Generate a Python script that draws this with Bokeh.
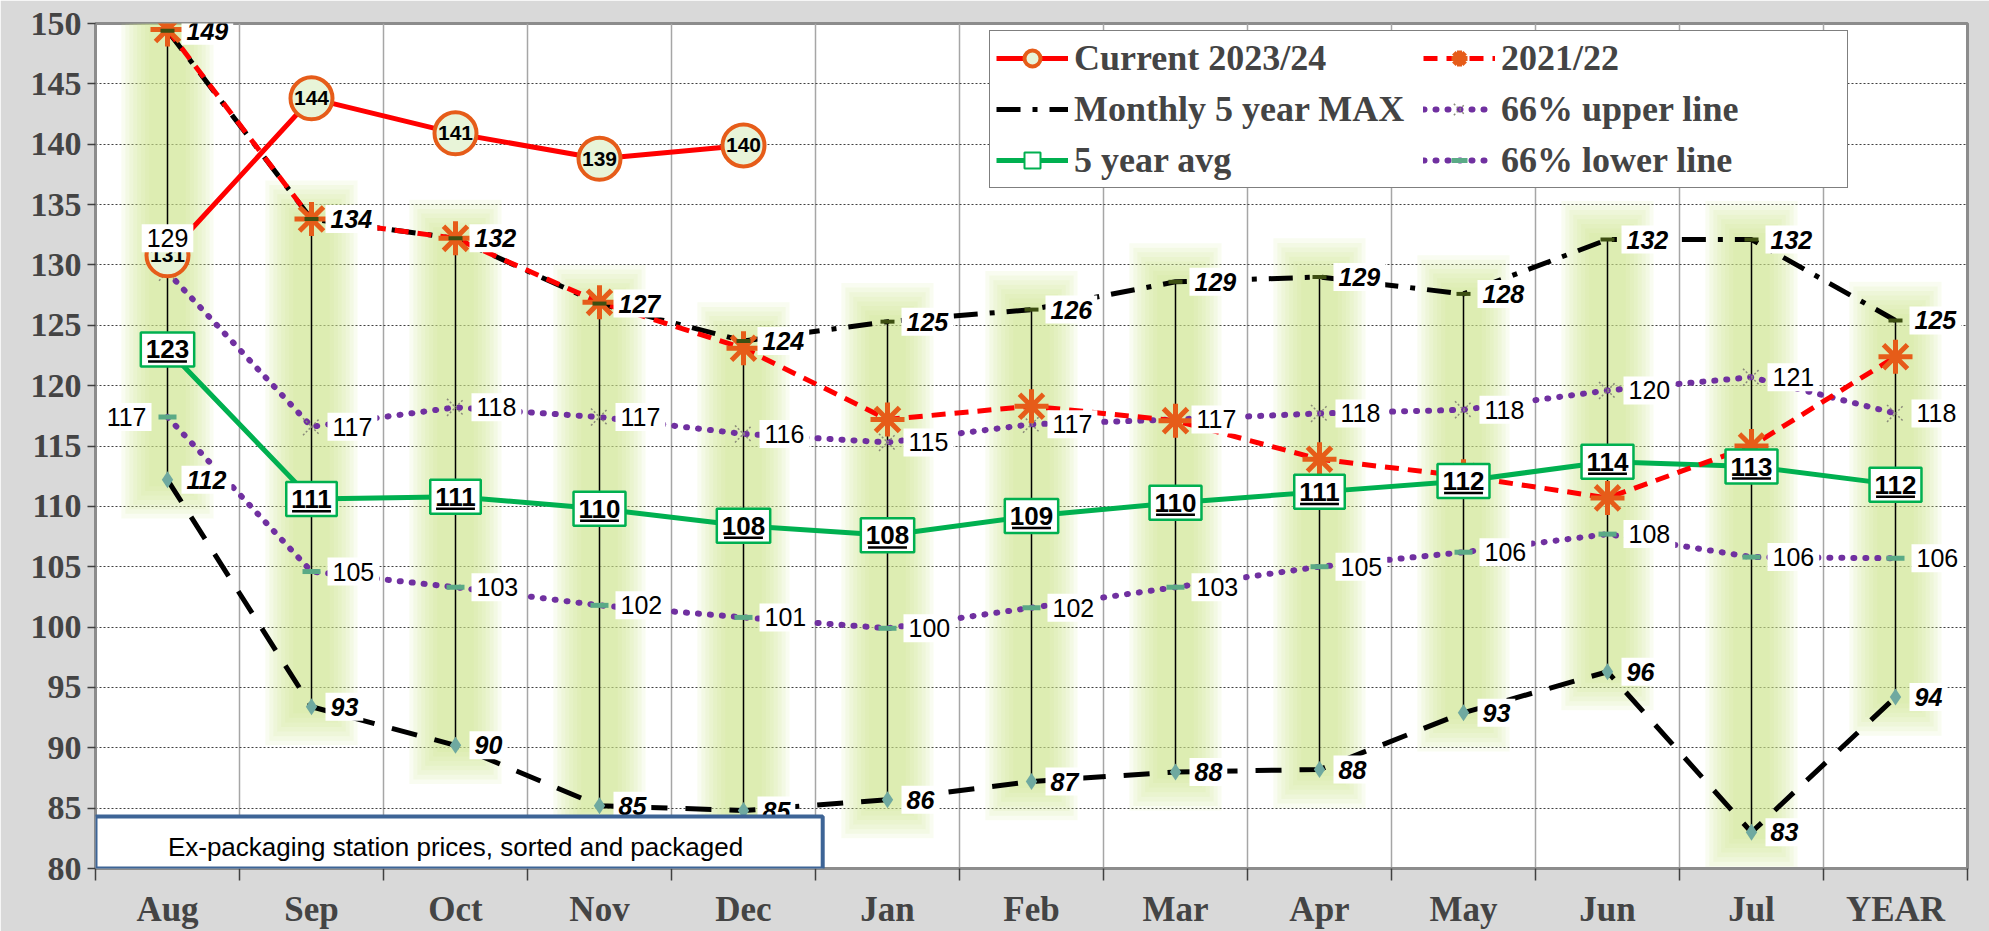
import numpy as np
from bokeh.plotting import figure
from bokeh.models import Range1d, FixedTicker, LegendItem, Legend, BoxAnnotation, Label
from bokeh.core.properties import value
from bokeh.embed import file_html
from bokeh.resources import INLINE

# ---------------- data ----------------
months = ["Aug", "Sep", "Oct", "Nov", "Dec", "Jan", "Feb", "Mar", "Apr", "May", "Jun", "Jul", "YEAR"]
current_2324 = [130.8, 143.8, 140.9, 138.8, 139.9]
season_2122 = [149.5, 133.8, 132.2, 126.9, 123.1, 117.2, 118.3, 117.1, 113.9, 112.5, 110.7, 115.0, 122.4]
max_5y = [149.4, 133.8, 132.2, 126.8, 123.7, 125.3, 126.3, 128.6, 129.0, 127.6, 132.1, 132.1, 125.4]
min_5y = [112.2, 93.4, 90.2, 85.2, 84.8, 85.7, 87.2, 88.0, 88.2, 92.9, 96.3, 83.0, 94.2]
avg_5y = [123.0, 110.6, 110.8, 109.8, 108.4, 107.6, 109.2, 110.3, 111.2, 112.1, 113.7, 113.3, 111.8]
upper_66 = [129.4, 116.6, 118.2, 117.4, 116.0, 115.3, 116.8, 117.2, 117.7, 118.0, 119.6, 120.7, 117.7]
lower_66 = [117.4, 104.6, 103.3, 101.8, 100.8, 99.9, 101.6, 103.3, 105.0, 106.2, 107.7, 105.8, 105.7]
y_ticks = list(range(80, 151, 5))
note_text = "Ex-packaging station prices, sorted and packaged"

xs = list(range(len(months)))
xc = xs[:len(current_2324)]
fmt = lambda arr: [f"{v:.0f}" for v in arr]

SANS = value("Liberation Sans")

p = figure(width=1989, height=931, x_range=Range1d(-0.5, len(months) - 0.5), y_range=Range1d(80, 150),
           output_backend="svg", toolbar_location=None,
           min_border_left=95, min_border_right=22, min_border_top=23, min_border_bottom=61,
           background_fill_color="white", border_fill_color="#d9d9d9",
           outline_line_color="#8c8c8c", outline_line_width=3)

# ---------------- glow bands around high-low lines ----------------
n_layers = 8
for k in range(n_layers):
    w = 0.64 - k * 0.055
    ext = 3.2 - k * 0.38
    p.vbar(x=xs, top=[m + ext for m in max_5y], bottom=[m - ext for m in min_5y], width=w,
           fill_color="#cbe98e", fill_alpha=0.12, line_color=None)

# high-low lines
p.segment(x0=xs, y0=min_5y, x1=xs, y1=max_5y, line_color="black", line_width=1.5)

# ---------------- series lines ----------------
min_line = p.line(xs, min_5y, line_color="black", line_width=5, line_dash="26 18")
max_line = p.line(xs, max_5y, line_color="black", line_width=5, line_dash="24 12 5 12")
up_line = p.line(xs, upper_66, line_color="#7030a0", line_width=6, line_dash="1 11", line_cap="round")
lo_line = p.line(xs, lower_66, line_color="#7030a0", line_width=6, line_dash="1 11", line_cap="round")
avg_line = p.line(xs, avg_5y, line_color="#00b050", line_width=5)
s21_line = p.line(xs, season_2122, line_color="#ff0000", line_width=5, line_dash="14 9")
cur_line = p.line(xc, current_2324, line_color="#ff0000", line_width=5)

# ---------------- markers ----------------
min_mk = p.scatter(xs, min_5y, marker="diamond", size=17, fill_color="#6fa9a0", line_color=None)
up_mk = p.scatter(xs, upper_66, marker="x", size=24, line_color="#8a8a7a", line_width=1.5, line_dash="2 2")
lo_mk = p.scatter(xs, lower_66, marker="dash", size=18, line_color="#5aaa86", line_width=5)
avg_mk = p.scatter(xs, avg_5y, marker="square", size=16, fill_color="white", line_color="#00b050", line_width=2)
s21_mk = p.scatter(xs, season_2122, marker="asterisk", size=34, line_color="#e65c19", line_width=5)
max_mk = p.scatter(xs, max_5y, marker="dash", size=14, line_color="#3d4f12", line_width=4)
cur_mk = p.scatter(xc, current_2324, marker="circle", size=42, fill_color="#e8f4d8",
                   line_color="#e65c19", line_width=4)

# ---------------- data labels ----------------
common_box = dict(background_fill_color="white", padding=5)

# current season inside circles
p.text(x=xc, y=current_2324, text=fmt(current_2324), text_align="center", text_baseline="middle",
       text_font=SANS, text_font_style="bold", text_font_size="21px", text_color="black")

# max / min labels (bold italic, right of point)
p.text(x=xs, y=max_5y, text=fmt(max_5y), x_offset=14, text_align="left", text_baseline="middle",
       text_font=SANS, text_font_style="bold italic", text_font_size="25px", text_color="black", **common_box)
p.text(x=xs, y=min_5y, text=fmt(min_5y), x_offset=14, text_align="left", text_baseline="middle",
       text_font=SANS, text_font_style="bold italic", text_font_size="25px", text_color="black", **common_box)

# 66% labels
p.text(x=xs[1:], y=upper_66[1:], text=fmt(upper_66[1:]), x_offset=16, text_align="left",
       text_baseline="middle", text_font=SANS, text_font_size="25px", text_color="black", **common_box)
p.text(x=xs[:1], y=upper_66[:1], text=fmt(upper_66[:1]), y_offset=-34, text_align="center",
       text_baseline="middle", text_font=SANS, text_font_size="25px", text_color="black", **common_box)
p.text(x=xs[1:], y=lower_66[1:], text=fmt(lower_66[1:]), x_offset=16, text_align="left",
       text_baseline="middle", text_font=SANS, text_font_size="25px", text_color="black", **common_box)
p.text(x=xs[:1], y=lower_66[:1], text=fmt(lower_66[:1]), x_offset=-16, text_align="right",
       text_baseline="middle", text_font=SANS, text_font_size="25px", text_color="black", **common_box)

# 5 year average boxed + underlined labels
p.text(x=xs, y=avg_5y, text=fmt(avg_5y), text_align="center", text_baseline="middle",
       text_font=SANS, text_font_style="bold", text_font_size="26px", text_color="black",
       background_fill_color="white", border_line_color="#00b050", border_line_width=2.5,
       padding=dict(left=5, right=5, top=8, bottom=8))
p.segment(x0=[x - 0.135 for x in xs], y0=[v - 1.0 for v in avg_5y],
          x1=[x + 0.135 for x in xs], y1=[v - 1.0 for v in avg_5y], line_color="black", line_width=2.5)

# ---------------- axes / grids ----------------
p.xaxis.ticker = FixedTicker(ticks=xs, minor_ticks=[i - 0.5 for i in range(len(months) + 1)])
p.xaxis.major_label_overrides = {i: m for i, m in enumerate(months)}
p.xaxis.major_tick_line_color = None
p.xaxis.major_tick_out = 0
p.xaxis.minor_tick_out = 12
p.xaxis.minor_tick_in = 0
p.xaxis.minor_tick_line_color = "#404040"
p.xaxis.minor_tick_line_width = 1.5
p.xaxis.major_label_standoff = 9
p.xaxis.major_label_text_font = "Liberation Serif"
p.xaxis.major_label_text_font_style = "bold"
p.xaxis.major_label_text_font_size = "35px"
p.xaxis.axis_line_color = "#8c8c8c"
p.xaxis.axis_line_width = 3

p.yaxis.ticker = FixedTicker(ticks=y_ticks)
p.yaxis.major_tick_out = 8
p.yaxis.major_tick_in = 0
p.yaxis.minor_tick_line_color = None
p.yaxis.major_tick_line_color = "#404040"
p.yaxis.major_tick_line_width = 1.5
p.yaxis.major_label_standoff = 6
p.yaxis.major_label_text_font = "Liberation Serif"
p.yaxis.major_label_text_font_style = "bold"
p.yaxis.major_label_text_font_size = "34px"
p.yaxis.axis_line_color = "#8c8c8c"
p.yaxis.axis_line_width = 3

p.xgrid.ticker = FixedTicker(ticks=[i - 0.5 for i in range(len(months) + 1)])
p.xgrid.grid_line_color = "#a6a6a6"
p.xgrid.grid_line_width = 1.5
p.ygrid.grid_line_color = "#404040"
p.ygrid.grid_line_width = 1
p.ygrid.grid_line_dash = "2 2"

# ---------------- note box ----------------
p.add_layout(BoxAnnotation(left=-0.5, right=4.55, bottom=80, top=84.3, fill_color="white", fill_alpha=1,
                           line_color="#3d6496", line_width=4, line_alpha=1))
p.add_layout(Label(x=2.0, y=81.8, text=note_text, text_align="center", text_baseline="middle",
                   text_font="Liberation Sans", text_font_size="26px", text_color="black"))

# ---------------- legend ----------------
legend = Legend(items=[
    LegendItem(label="Current 2023/24", renderers=[cur_line, cur_mk]),
    LegendItem(label="2021/22", renderers=[s21_line, s21_mk]),
    LegendItem(label="Monthly 5 year MAX", renderers=[max_line]),
    LegendItem(label="66% upper line", renderers=[up_line, up_mk]),
    LegendItem(label="5 year avg", renderers=[avg_line, avg_mk]),
    LegendItem(label="66% lower line", renderers=[lo_line, lo_mk]),
], orientation="horizontal", ncols=2, location=(894, 680),
    label_text_font="Liberation Serif", label_text_font_style="bold", label_text_font_size="36px",
    glyph_width=72, glyph_height=40, label_height=40, label_standoff=6, label_width=340,
    spacing=9, padding=6, margin=0,
    border_line_color="black", border_line_width=1.5, background_fill_color="white", background_fill_alpha=1)
p.add_layout(legend)

open("out.html", "w").write(file_html(p, INLINE))
